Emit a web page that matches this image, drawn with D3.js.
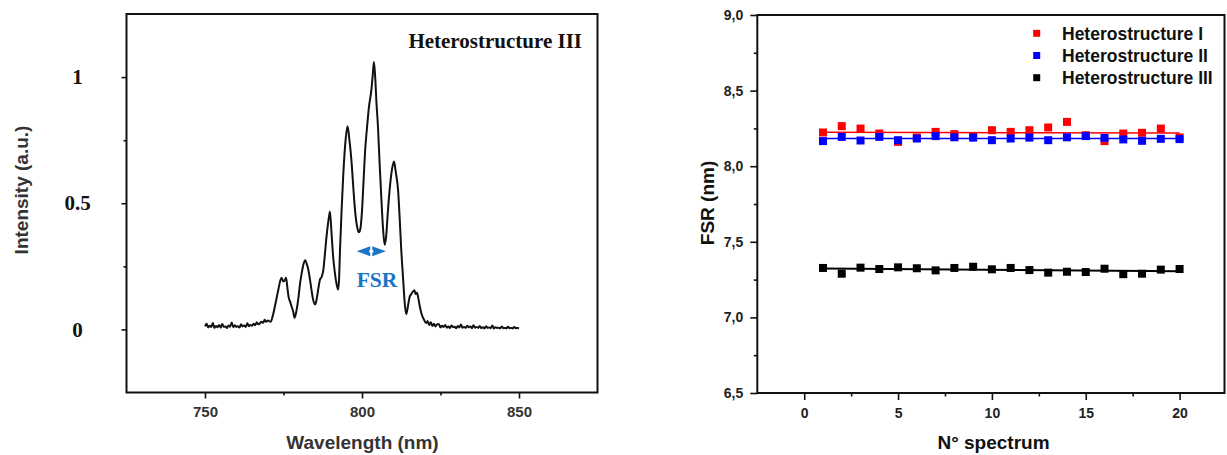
<!DOCTYPE html>
<html>
<head>
<meta charset="utf-8">
<script src="https://cdn.jsdelivr.net/npm/d3@7"></script>
<style>
  body { margin: 0; background: #fff; }
</style>
</head>
<body>
<div id="plot"></div>
<script>
// ---------- data: left panel (spectrum of heterostructure III) ----------
var wlDomain = [725, 875];
var wlTicks = [750, 800, 850];
var wlMinor = [775, 825];
var intDomain = [-0.25, 1.25];
var intTicks = [0, 0.5, 1];
var intMinor = [0.25, 0.75];
var intLabels = ["0", "0.5", "1"];

// [wavelength nm, intensity a.u.]
var spectrum = [
  [750,0.012],[750.5,0.022],[751,0.008],[751.5,0.015],[752,0.01],[752.5,0.025],[753,0.006],[753.5,0.014],
  [754,0.009],[754.5,0.018],[755,0.007],[755.5,0.021],[756,0.01],[756.5,0.012],[757,0.006],[757.5,0.016],
  [758,0.011],[758.5,0.027],[759,0.009],[759.5,0.017],[760,0.01],[760.5,0.013],[761,0.008],[761.5,0.02],
  [762,0.012],[762.5,0.016],[763,0.01],[763.5,0.024],[764,0.013],[764.5,0.018],[765,0.015],[765.5,0.022],
  [766,0.017],[766.5,0.028],[767,0.02],[767.5,0.024],[768,0.03],[768.5,0.026],[769,0.038],[769.5,0.03],
  [770,0.035],[770.9,0.03],[771.4,0.045],[771.9,0.07],[772.4,0.1],[772.9,0.13],[773.4,0.16],[773.9,0.19],
  [774.4,0.205],[774.9,0.19],[775.4,0.195],[775.8,0.205],[776.2,0.17],[776.6,0.13],[777.1,0.11],[777.6,0.09],
  [778.1,0.07],[778.5,0.046],[778.9,0.06],[779.2,0.079],[779.7,0.12],[780.3,0.184],[780.9,0.23],[781.4,0.26],
  [781.9,0.274],[782.4,0.26],[782.9,0.237],[783.4,0.2],[783.9,0.158],[784.4,0.12],[785,0.099],[785.4,0.11],
  [785.7,0.13],[786.2,0.17],[786.6,0.197],[787.2,0.21],[787.7,0.237],[788.2,0.3],[788.7,0.368],[789.3,0.43],
  [789.8,0.467],[790.3,0.38],[790.8,0.29],[791.4,0.22],[791.9,0.18],[792.4,0.158],[792.7,0.2],[793,0.316],
  [793.5,0.47],[794,0.605],[794.7,0.74],[795.4,0.805],[796,0.75],[796.7,0.66],[797.3,0.55],[797.8,0.47],
  [798.4,0.41],[799,0.385],[799.5,0.4],[800,0.47],[800.5,0.59],[801,0.71],[801.6,0.8],[802.2,0.88],
  [803,0.95],[803.5,1.02],[803.8,1.06],[804.2,1.0],[804.6,0.9],[805.1,0.8],[805.6,0.66],[806.2,0.51],
  [806.7,0.4],[807.2,0.336],[807.7,0.37],[808.2,0.46],[808.8,0.553],[809.5,0.63],[810.2,0.665],[810.8,0.62],
  [811.5,0.55],[812,0.44],[812.5,0.316],[813.1,0.2],[813.6,0.105],[814.1,0.06],[814.6,0.09],[815.2,0.13],
  [815.7,0.14],[816.2,0.15],[816.7,0.155],[817.1,0.14],[817.5,0.145],[818,0.12],[818.4,0.092],[819,0.06],
  [819.7,0.04],[820.4,0.025],[820.9,0.033],[821.4,0.018],[821.9,0.028],[822.4,0.014],[822.9,0.022],[823.4,0.012],
  [823.9,0.02],[824.5,0.02],[825,0.008],[825.5,0.015],[826,0.01],[826.5,0.018],[827,0.007],
  [827.5,0.012],[828,0.006],[828.5,0.016],[829,0.009],[829.5,0.011],[830,0.005],[830.5,0.014],[831,0.008],
  [831.5,0.019],[832,0.007],[832.5,0.01],[833,0.006],[833.5,0.015],[834,0.008],[834.5,0.012],[835,0.005],
  [835.5,0.017],[836,0.007],[836.5,0.01],[837,0.006],[837.5,0.014],[838,0.005],[838.5,0.009],[839,0.004],
  [839.5,0.013],[840,0.006],[840.5,0.008],[841,0.005],[841.5,0.016],[842,0.004],[842.5,0.009],[843,0.006],
  [843.5,0.007],[844,0.004],[844.5,0.012],[845,0.005],[845.5,0.006],[846,0.004],[846.5,0.011],[847,0.005],
  [847.5,0.006],[848,0.004],[848.5,0.01],[849,0.005],[849.5,0.006],[850,0.005]
];

// FSR arrow: from / to wavelength, and its height
var fsrArrow = [798.3, 807.6];
var fsrArrowLevel = 0.31;

// ---------- data: right panel (FSR per spectrum) ----------
var specDomain = [-2.5, 22.5];
var specTicks = [0, 5, 10, 15, 20];
var specMinor = [2.5, 7.5, 12.5, 17.5];
var fsrDomain = [6.5, 9.0];
var fsrTicks = [6.5, 7.0, 7.5, 8.0, 8.5, 9.0];
var fsrMinor = [6.75, 7.25, 7.75, 8.25, 8.75];

var spectrumNo = [1, 2, 3, 4, 5, 6, 7, 8, 9, 10, 11, 12, 13, 14, 15, 16, 17, 18, 19, 20];
var fsrI   = [8.223, 8.265, 8.249, 8.216, 8.161, 8.19, 8.227, 8.212, 8.20, 8.238,
              8.227, 8.238, 8.256, 8.293, 8.205, 8.166, 8.216, 8.221, 8.249, 8.19];
var fsrII  = [8.166, 8.194, 8.170, 8.194, 8.172, 8.183, 8.199, 8.191, 8.189, 8.172,
              8.183, 8.189, 8.172, 8.191, 8.199, 8.187, 8.177, 8.168, 8.181, 8.179];
var fsrIII = [7.327, 7.289, 7.329, 7.320, 7.331, 7.325, 7.311, 7.327, 7.335, 7.318,
              7.327, 7.313, 7.296, 7.302, 7.300, 7.322, 7.286, 7.289, 7.316, 7.320];

var seriesNames = ["Heterostructure I", "Heterostructure II", "Heterostructure III"];
var seriesColors = ["#ff0000", "#0000ff", "#000000"];

// ---------- svg ----------
var svg = d3.select("#plot")
  .append("svg")
  .attr("width", 1227)
  .attr("height", 455);

var sans = "'Liberation Sans', Arial, sans-serif";
var serif = "'Liberation Serif', 'Times New Roman', serif";

function styleTicks(g) {
  g.select(".domain").remove();
  g.selectAll(".tick line").attr("stroke", "#111").attr("stroke-width", 1.6);
}

// ================= left panel =================
var xL = d3.scaleLinear().domain(wlDomain).range([126.5, 597.5]);
var yL = d3.scaleLinear().domain(intDomain).range([392.5, 14]);

var gxL = svg.append("g")
  .attr("transform", "translate(0,392.5)")
  .call(d3.axisBottom(xL).tickValues(wlTicks).tickSize(6).tickFormat(d3.format("d")));
styleTicks(gxL);
gxL.selectAll(".tick text")
  .attr("y", 14)
  .attr("font-family", sans)
  .attr("font-weight", "bold")
  .attr("font-size", 15)
  .attr("fill", "#333");

var gxLm = svg.append("g")
  .attr("transform", "translate(0,392.5)")
  .call(d3.axisBottom(xL).tickValues(wlMinor).tickSize(3).tickFormat(""));
styleTicks(gxLm);

var gyL = svg.append("g")
  .attr("transform", "translate(126.5,0)")
  .call(d3.axisLeft(yL).tickValues(intTicks).tickSize(5)
    .tickFormat(function(d, i) { return intLabels[i]; }));
styleTicks(gyL);
gyL.selectAll(".tick text")
  .attr("x", -49)
  .attr("text-anchor", "middle")
  .attr("font-family", serif)
  .attr("font-weight", "bold")
  .attr("font-size", 21)
  .attr("fill", "#111");

var gyLm = svg.append("g")
  .attr("transform", "translate(126.5,0)")
  .call(d3.axisLeft(yL).tickValues(intMinor).tickSize(3).tickFormat(""));
styleTicks(gyLm);

// frame
svg.append("rect")
  .attr("x", xL.range()[0]).attr("y", yL.range()[1])
  .attr("width", xL.range()[1] - xL.range()[0])
  .attr("height", yL.range()[0] - yL.range()[1])
  .attr("fill", "none").attr("stroke", "#111").attr("stroke-width", 2);

// spectrum line
var specLine = d3.line()
  .x(function(d) { return xL(d[0]); })
  .y(function(d) { return yL(d[1]); })
  .curve(d3.curveMonotoneX);

svg.append("path")
  .datum(spectrum)
  .attr("d", specLine)
  .attr("fill", "none")
  .attr("stroke", "#111")
  .attr("stroke-width", 2)
  .attr("stroke-linejoin", "round");

// FSR arrow and label
var ax1 = xL(fsrArrow[0]), ax2 = xL(fsrArrow[1]), ay = yL(fsrArrowLevel);
var axm = (ax1 + ax2) / 2;
var fsrBlue = "#1b74c5";
svg.append("path")
  .attr("d", "M" + ax1 + "," + ay + " L" + (axm - 1) + "," + (ay - 5) + " L" + (axm - 1) + "," + (ay + 5) + "Z" +
             "M" + ax2 + "," + ay + " L" + (axm + 1) + "," + (ay - 5) + " L" + (axm + 1) + "," + (ay + 5) + "Z")
  .attr("fill", fsrBlue);
svg.append("path")
  .attr("d", "M" + (axm - 2.5) + "," + ay + " L" + axm + "," + (ay - 2.5) + " L" + (axm + 2.5) + "," + ay +
             " L" + axm + "," + (ay + 2.5) + "Z")
  .attr("fill", "#fff");

svg.append("text")
  .attr("x", ax1)
  .attr("y", ay + 36)
  .attr("font-family", serif)
  .attr("font-weight", "bold")
  .attr("font-size", 21.5)
  .attr("fill", fsrBlue)
  .text("FSR");

svg.append("text")
  .attr("x", 582)
  .attr("y", 48)
  .attr("text-anchor", "end")
  .attr("font-family", serif)
  .attr("font-weight", "bold")
  .attr("font-size", 21)
  .attr("fill", "#111")
  .text("Heterostructure III");

// axis titles
svg.append("text")
  .attr("x", 362.5).attr("y", 448.5)
  .attr("text-anchor", "middle")
  .attr("font-family", sans).attr("font-weight", "bold").attr("font-size", 19)
  .attr("fill", "#333")
  .text("Wavelength (nm)");

svg.append("text")
  .attr("transform", "translate(28,190) rotate(-90)")
  .attr("text-anchor", "middle")
  .attr("font-family", sans).attr("font-weight", "bold").attr("font-size", 19)
  .attr("fill", "#333")
  .text("Intensity (a.u.)");

// ================= right panel =================
var xR = d3.scaleLinear().domain(specDomain).range([757.3, 1226.5]);
var yR = d3.scaleLinear().domain(fsrDomain).range([393, 15]);

var gxR = svg.append("g")
  .attr("transform", "translate(0,393)")
  .call(d3.axisBottom(xR).tickValues(specTicks).tickSize(7));
styleTicks(gxR);
gxR.selectAll(".tick text")
  .attr("y", 15)
  .attr("font-family", sans)
  .attr("font-weight", "bold")
  .attr("font-size", 14)
  .attr("fill", "#222");

var gxRm = svg.append("g")
  .attr("transform", "translate(0,393)")
  .call(d3.axisBottom(xR).tickValues(specMinor).tickSize(3.5).tickFormat(""));
styleTicks(gxRm);

var gyR = svg.append("g")
  .attr("transform", "translate(757.3,0)")
  .call(d3.axisLeft(yR).tickValues(fsrTicks).tickSize(7)
    .tickFormat(function(d) { return d.toFixed(1).replace(".", ","); }));
styleTicks(gyR);
gyR.selectAll(".tick text")
  .attr("x", -14)
  .attr("font-family", sans)
  .attr("font-weight", "bold")
  .attr("font-size", 14)
  .attr("fill", "#222");

var gyRm = svg.append("g")
  .attr("transform", "translate(757.3,0)")
  .call(d3.axisLeft(yR).tickValues(fsrMinor).tickSize(3.5).tickFormat(""));
styleTicks(gyRm);

svg.append("rect")
  .attr("x", xR.range()[0]).attr("y", yR.range()[1])
  .attr("width", 1224.5 - xR.range()[0])
  .attr("height", yR.range()[0] - yR.range()[1])
  .attr("fill", "none").attr("stroke", "#111").attr("stroke-width", 2);

// series: points then linear fit
var allSeries = [fsrI, fsrII, fsrIII];
var markerSize = 8;

allSeries.forEach(function(vals, s) {
  var pts = spectrumNo.map(function(n, i) { return [n, vals[i]]; });

  svg.append("g").selectAll("rect")
    .data(pts)
    .enter()
    .append("rect")
    .attr("x", function(d) { return xR(d[0]) - markerSize / 2; })
    .attr("y", function(d) { return yR(d[1]) - markerSize / 2; })
    .attr("width", markerSize)
    .attr("height", markerSize)
    .attr("fill", seriesColors[s]);

  // least squares fit
  var mx = d3.mean(pts, function(d) { return d[0]; });
  var my = d3.mean(pts, function(d) { return d[1]; });
  var sxy = d3.sum(pts, function(d) { return (d[0] - mx) * (d[1] - my); });
  var sxx = d3.sum(pts, function(d) { return (d[0] - mx) * (d[0] - mx); });
  var slope = sxy / sxx;
  var ends = d3.extent(spectrumNo).map(function(n) { return [n, my + slope * (n - mx)]; });

  svg.append("path")
    .datum(ends)
    .attr("d", d3.line().x(function(d) { return xR(d[0]); }).y(function(d) { return yR(d[1]); }))
    .attr("stroke", seriesColors[s])
    .attr("stroke-width", s === 2 ? 2 : 1.5)
    .attr("fill", "none");
});

// legend
var legend = svg.append("g");
seriesNames.forEach(function(name, i) {
  var cy = 33.3 + i * 22.2;
  legend.append("rect")
    .attr("x", 1033.2).attr("y", cy - 3.5)
    .attr("width", 7).attr("height", 7)
    .attr("fill", seriesColors[i]);
  legend.append("text")
    .attr("x", 1062).attr("y", cy + 6.3)
    .attr("font-family", sans).attr("font-weight", "bold").attr("font-size", 17.5)
    .attr("fill", "#111")
    .text(name);
});

// axis titles
svg.append("text")
  .attr("x", 993.5).attr("y", 449)
  .attr("text-anchor", "middle")
  .attr("font-family", sans).attr("font-weight", "bold").attr("font-size", 19)
  .attr("fill", "#111")
  .text("N° spectrum");

svg.append("text")
  .attr("transform", "translate(714,203) rotate(-90)")
  .attr("text-anchor", "middle")
  .attr("font-family", sans).attr("font-weight", "bold").attr("font-size", 19)
  .attr("fill", "#111")
  .text("FSR (nm)");
</script>
</body>
</html>
